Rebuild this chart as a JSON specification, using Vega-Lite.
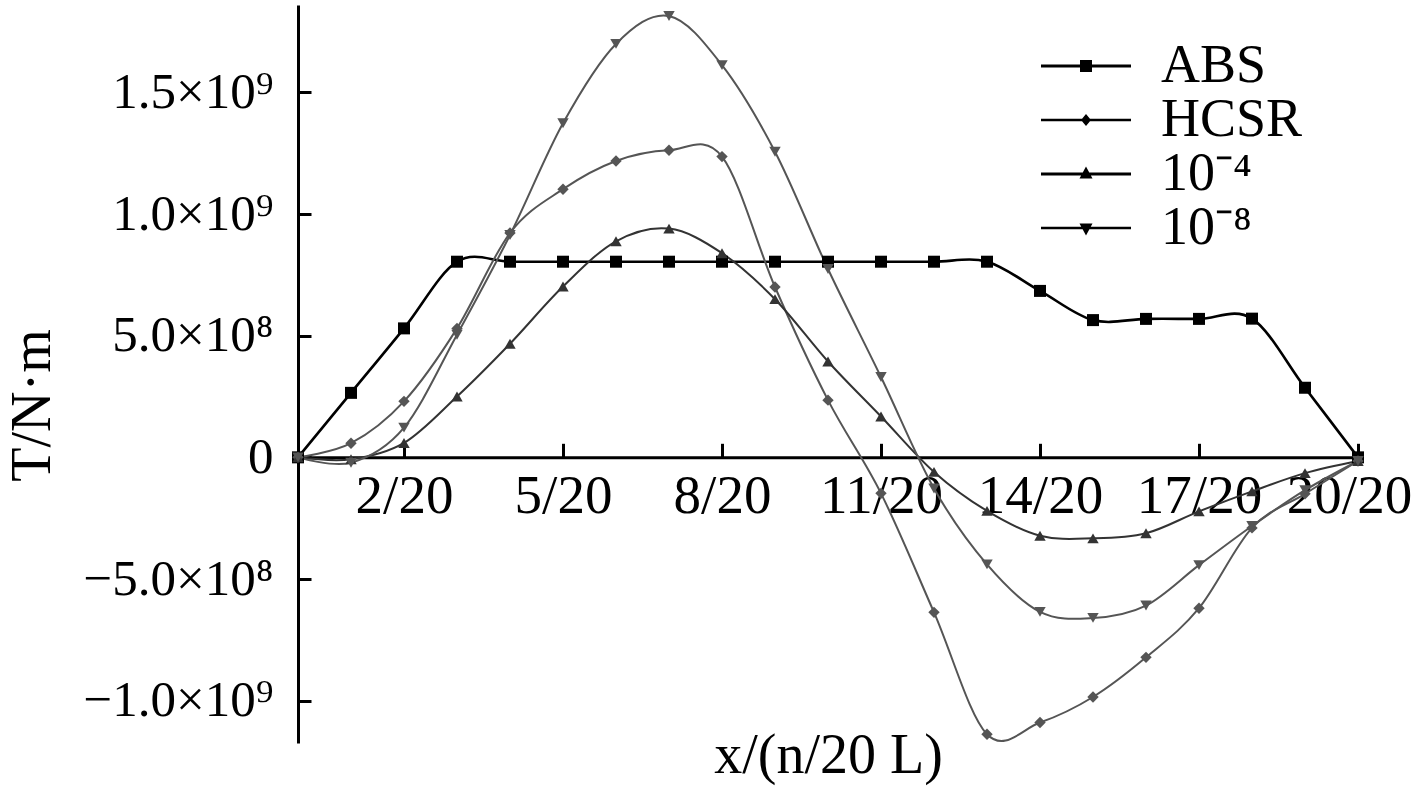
{
  "$schema": "https://vega.github.io/schema/vega-lite/v6.json",
  "width": 1060,
  "height": 738,
  "autosize": {"type": "none"},
  "padding": {"left": 298, "top": 5, "right": 59, "bottom": 55},
  "background": "white",
  "config": {
    "view": {"stroke": null},
    "font": "Liberation Serif"
  },
  "data": {
    "values": [
      {"series": "ABS", "x": 0, "T": 0},
      {"series": "ABS", "x": 1, "T": 265000000},
      {"series": "ABS", "x": 2, "T": 530000000},
      {"series": "ABS", "x": 3, "T": 804000000},
      {"series": "ABS", "x": 4, "T": 804000000},
      {"series": "ABS", "x": 5, "T": 804000000},
      {"series": "ABS", "x": 6, "T": 804000000},
      {"series": "ABS", "x": 7, "T": 804000000},
      {"series": "ABS", "x": 8, "T": 804000000},
      {"series": "ABS", "x": 9, "T": 804000000},
      {"series": "ABS", "x": 10, "T": 804000000},
      {"series": "ABS", "x": 11, "T": 804000000},
      {"series": "ABS", "x": 12, "T": 804000000},
      {"series": "ABS", "x": 13, "T": 804000000},
      {"series": "ABS", "x": 14, "T": 684000000},
      {"series": "ABS", "x": 15, "T": 564000000},
      {"series": "ABS", "x": 16, "T": 569000000},
      {"series": "ABS", "x": 17, "T": 569000000},
      {"series": "ABS", "x": 18, "T": 570000000},
      {"series": "ABS", "x": 19, "T": 286000000},
      {"series": "ABS", "x": 20, "T": 0},
      {"series": "HCSR", "x": 0, "T": 0},
      {"series": "HCSR", "x": 1, "T": 58000000},
      {"series": "HCSR", "x": 2, "T": 230000000},
      {"series": "HCSR", "x": 3, "T": 530000000},
      {"series": "HCSR", "x": 4, "T": 922000000},
      {"series": "HCSR", "x": 5, "T": 1102000000},
      {"series": "HCSR", "x": 6, "T": 1218000000},
      {"series": "HCSR", "x": 7, "T": 1262000000},
      {"series": "HCSR", "x": 8, "T": 1236000000},
      {"series": "HCSR", "x": 9, "T": 700000000},
      {"series": "HCSR", "x": 10, "T": 235000000},
      {"series": "HCSR", "x": 11, "T": -148000000},
      {"series": "HCSR", "x": 12, "T": -637000000},
      {"series": "HCSR", "x": 13, "T": -1138000000},
      {"series": "HCSR", "x": 14, "T": -1090000000},
      {"series": "HCSR", "x": 15, "T": -985000000},
      {"series": "HCSR", "x": 16, "T": -822000000},
      {"series": "HCSR", "x": 17, "T": -620000000},
      {"series": "HCSR", "x": 18, "T": -290000000},
      {"series": "HCSR", "x": 19, "T": -150000000},
      {"series": "HCSR", "x": 20, "T": -15000000},
      {"series": "10⁻⁴", "x": 0, "T": 0},
      {"series": "10⁻⁴", "x": 1, "T": -8000000},
      {"series": "10⁻⁴", "x": 2, "T": 59000000},
      {"series": "10⁻⁴", "x": 3, "T": 250000000},
      {"series": "10⁻⁴", "x": 4, "T": 467000000},
      {"series": "10⁻⁴", "x": 5, "T": 702000000},
      {"series": "10⁻⁴", "x": 6, "T": 888000000},
      {"series": "10⁻⁴", "x": 7, "T": 940000000},
      {"series": "10⁻⁴", "x": 8, "T": 839000000},
      {"series": "10⁻⁴", "x": 9, "T": 650000000},
      {"series": "10⁻⁴", "x": 10, "T": 394000000},
      {"series": "10⁻⁴", "x": 11, "T": 168000000},
      {"series": "10⁻⁴", "x": 12, "T": -60000000},
      {"series": "10⁻⁴", "x": 13, "T": -220000000},
      {"series": "10⁻⁴", "x": 14, "T": -322000000},
      {"series": "10⁻⁴", "x": 15, "T": -333000000},
      {"series": "10⁻⁴", "x": 16, "T": -312000000},
      {"series": "10⁻⁴", "x": 17, "T": -222000000},
      {"series": "10⁻⁴", "x": 18, "T": -140000000},
      {"series": "10⁻⁴", "x": 19, "T": -65000000},
      {"series": "10⁻⁴", "x": 20, "T": -15000000},
      {"series": "10⁻⁸", "x": 0, "T": 0},
      {"series": "10⁻⁸", "x": 1, "T": -22000000},
      {"series": "10⁻⁸", "x": 2, "T": 122000000},
      {"series": "10⁻⁸", "x": 3, "T": 504000000},
      {"series": "10⁻⁸", "x": 4, "T": 914000000},
      {"series": "10⁻⁸", "x": 5, "T": 1373000000},
      {"series": "10⁻⁸", "x": 6, "T": 1699000000},
      {"series": "10⁻⁸", "x": 7, "T": 1814000000},
      {"series": "10⁻⁸", "x": 8, "T": 1612000000},
      {"series": "10⁻⁸", "x": 9, "T": 1256000000},
      {"series": "10⁻⁸", "x": 10, "T": 774000000},
      {"series": "10⁻⁸", "x": 11, "T": 330000000},
      {"series": "10⁻⁸", "x": 12, "T": -128000000},
      {"series": "10⁻⁸", "x": 13, "T": -440000000},
      {"series": "10⁻⁸", "x": 14, "T": -635000000},
      {"series": "10⁻⁸", "x": 15, "T": -660000000},
      {"series": "10⁻⁸", "x": 16, "T": -609000000},
      {"series": "10⁻⁸", "x": 17, "T": -443000000},
      {"series": "10⁻⁸", "x": 18, "T": -282000000},
      {"series": "10⁻⁸", "x": 19, "T": -135000000},
      {"series": "10⁻⁸", "x": 20, "T": -15000000}
    ]
  },
  "encoding": {
    "x": {
      "field": "x",
      "type": "quantitative",
      "scale": {"domain": [0, 20], "nice": false, "zero": false},
      "axis": {
        "values": [2, 5, 8, 11, 14, 17, 20],
        "labelExpr": "datum.value + '/20'",
        "offset": -285.7,
        "grid": false,
        "domainColor": "black",
        "domainWidth": 3,
        "tickColor": "black",
        "tickWidth": 3,
        "tickSize": -14,
        "labelPadding": 26,
        "labelFont": "Liberation Serif",
        "labelFontSize": 55,
        "labelColor": "black",
        "labelBaseline": "top",
        "labelFlush": false,
        "labelOverlap": false,
        "labelLimit": 0,
        "labelOffset": {"condition": {"test": "datum.value == 20", "value": -9}, "value": 0},
        "title": "x/(n/20 L)",
        "titleFont": "Liberation Serif",
        "titleFontSize": 56,
        "titleFontWeight": "normal",
        "titleColor": "black",
        "titleX": 530,
        "titleY": 315,
        "titleBaseline": "alphabetic",
        "titleAlign": "center"
      }
    },
    "y": {
      "field": "T",
      "type": "quantitative",
      "scale": {"domain": [-1174000000, 1859000000], "nice": false, "zero": false},
      "axis": {
        "values": [-1000000000, -500000000, 0, 500000000, 1000000000, 1500000000],
        "labelExpr": "datum.value == 0 ? '0' : (datum.value < 0 ? '−' : '') + (abs(datum.value) >= 1000000000 ? format(abs(datum.value) / 1000000000, '.1f') + '×10⁹' : format(abs(datum.value) / 100000000, '.1f') + '×10⁸')",
        "grid": false,
        "domainColor": "black",
        "domainWidth": 3,
        "tickColor": "black",
        "tickWidth": 3,
        "tickSize": -13,
        "labelPadding": 38,
        "labelFont": "Liberation Serif",
        "labelFontSize": 51,
        "labelColor": "black",
        "labelFlush": false,
        "labelOverlap": false,
        "labelLimit": 0,
        "title": "T/N·m",
        "titleFont": "Liberation Serif",
        "titleFontSize": 56,
        "titleFontWeight": "normal",
        "titleColor": "black",
        "titleX": -266,
        "titleY": 400,
        "titleAngle": 270,
        "titleBaseline": "middle",
        "titleAlign": "center"
      }
    },
    "color": {
      "field": "series",
      "type": "nominal",
      "scale": {"domain": ["ABS", "HCSR", "10⁻⁴", "10⁻⁸"], "range": ["#000000", "#555555", "#333333", "#555555"]},
      "legend": null
    }
  },
  "layer": [
    {
      "mark": {"type": "line", "interpolate": "cardinal"},
      "encoding": {
        "strokeWidth": {"condition": {"test": "datum.series === 'ABS'", "value": 2.6}, "value": 2}
      }
    },
    {
      "mark": {"type": "point", "filled": true, "opacity": 1},
      "encoding": {
        "shape": {
          "field": "series",
          "type": "nominal",
          "scale": {"domain": ["ABS", "HCSR", "10⁻⁴", "10⁻⁸"], "range": ["square", "diamond", "triangle-up", "triangle-down"]},
          "legend": null
        },
        "size": {"condition": {"test": "datum.series === 'ABS'", "value": 144}, "value": 130}
      }
    },
    {
      "transform": [{"filter": "datum.x < 0"}],
      "mark": {"type": "point", "filled": true, "opacity": 1},
      "encoding": {
        "shape": {
          "field": "series",
          "type": "nominal",
          "scale": {
            "domain": ["ABS", "HCSR", "10⁻⁴", "10⁻⁸"],
            "range": [
              "M-9,-0.3H9V0.3H-9Z M-1.2,-1.2H1.2V1.2H-1.2Z",
              "M-9,-0.25H9V0.25H-9Z M0,-1.2L1,0L0,1.2L-1,0Z",
              "M-9,-0.3H9V0.3H-9Z M0,-1.5L1.3,0.9L-1.3,0.9Z",
              "M-9,-0.25H9V0.25H-9Z M-1.3,-0.9L1.3,-0.9L0,1.5Z"
            ]
          },
          "legend": {
            "title": null,
            "orient": "none",
            "legendX": 761,
            "legendY": 34,
            "padding": 0,
            "symbolSize": 100,
            "symbolStrokeWidth": 0,
            "labelFont": "Liberation Serif",
            "labelFontSize": 54,
            "labelColor": "black",
            "labelOffset": 48,
            "labelLimit": 0,
            "rowPadding": 0,
            "encode": {
              "symbols": {"update": {"fill": {"scale": "color", "field": "value"}, "opacity": {"value": 1}}}
            }
          }
        }
      }
    }
  ],
  "resolve": {"scale": {"shape": "independent"}}
}
